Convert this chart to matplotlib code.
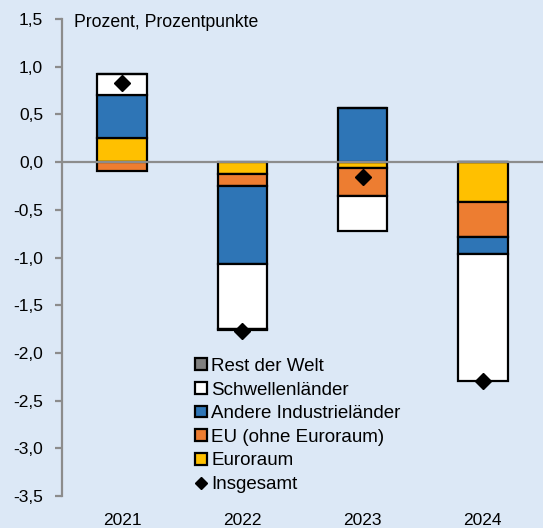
import numpy as np
import matplotlib.pyplot as plt
from matplotlib.ticker import FuncFormatter, MultipleLocator
from matplotlib.patches import Patch
from matplotlib.lines import Line2D

plt.rcParams['font.family'] = ['Liberation Sans', 'DejaVu Sans']

years = ["2021", "2022", "2023", "2024"]
euroraum = [0.25, -0.12, -0.065, -0.42]
eu_ohne = [-0.09, -0.13, -0.29, -0.36]
andere = [0.45, -0.82, 0.565, -0.18]
schwellen = [0.22, -0.68, -0.37, -1.33]
rest = [0.0, -0.01, 0.0, 0.0]
insgesamt = [0.83, -1.77, -0.16, -2.29]

series = [
    ("Euroraum", euroraum, "#ffc000"),
    ("EU (ohne Euroraum)", eu_ohne, "#ed7d31"),
    ("Andere Industrieländer", andere, "#2e75b6"),
    ("Schwellenländer", schwellen, "#ffffff"),
    ("Rest der Welt", rest, "#808080"),
]

bg = "#dce8f6"
fig = plt.figure(figsize=(5.43, 5.28), dpi=100, facecolor=bg)
ax = fig.add_axes([0.114, 0.0606, 0.886, 0.9034])
ax.set_facecolor(bg)

x = np.arange(len(years))
pos = np.zeros(len(years))
neg = np.zeros(len(years))
for name, vals, col in series:
    vals = np.array(vals)
    bottom = np.where(vals >= 0, pos, neg)
    ax.bar(x, vals, 0.41, bottom=bottom, color=col, edgecolor="black",
           linewidth=1.6, zorder=3)
    pos = pos + np.where(vals >= 0, vals, 0)
    neg = neg + np.where(vals < 0, vals, 0)

ax.plot(x, insgesamt, linestyle="none", marker="D", markersize=8,
        color="black", zorder=5)

ax.axhline(0, color="#8c8c8c", linewidth=1.6, zorder=4)

ax.set_xlim(-0.5, 3.5)
ax.set_ylim(-3.5, 1.5)
ax.yaxis.set_major_locator(MultipleLocator(0.5))
ax.yaxis.set_major_formatter(FuncFormatter(lambda v, p: f"{v:.1f}".replace(".", ",")))
ax.set_xticks(x)
ax.set_xticklabels(years)
ax.tick_params(axis="x", length=0, labelsize=12.5, pad=12)
ax.tick_params(axis="y", length=5, width=1.6, color="#8c8c8c", labelsize=12.5, pad=8.5)

for s in ["top", "right", "bottom"]:
    ax.spines[s].set_visible(False)
ax.spines["left"].set_color("#8c8c8c")
ax.spines["left"].set_linewidth(1.6)

ax.text(0.025, 0.993, "Prozent, Prozentpunkte", transform=ax.transAxes,
        fontsize=12.7, va="center", ha="left")

handles = [Patch(facecolor=col, edgecolor="black", linewidth=1.6, label=name)
           for name, vals, col in reversed(series)]
handles.append(Line2D([], [], linestyle="none", marker="D", markersize=6,
                      color="black", label="Insgesamt"))
ax.legend(handles=handles, loc="upper left", bbox_to_anchor=(0.36, 0.322),
          bbox_transform=fig.transFigure, frameon=False, fontsize=13.5,
          handlelength=0.6, handleheight=0.6, handletextpad=0.25,
          labelspacing=0.35, borderaxespad=0, borderpad=0)

fig.savefig("out.png", dpi=100, facecolor=bg)
